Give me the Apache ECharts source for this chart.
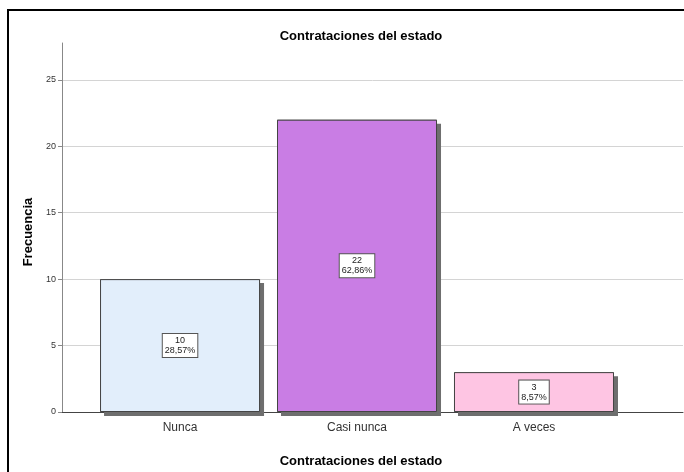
<!DOCTYPE html>
<html>
<head>
<meta charset="utf-8">
<script src="https://cdn.jsdelivr.net/npm/echarts@6/dist/echarts.min.js"></script>
<style>
  html, body { margin: 0; padding: 0; background: #fff; }
  #chart { width: 684px; height: 472px; }
</style>
</head>
<body>
<div id="chart"></div>
<script>
// datos
const categories = ['Nunca', 'Casi nunca', 'A veces'];
const frecuencias = [10, 22, 3];
const porcentajes = ['28,57%', '62,86%', '8,57%'];
const yTicks = [0, 5, 10, 15, 20, 25];
const barColors = ['#e2eefb', '#c97de4', '#fec5e3'];

const font = 'Liberation Sans, Arial, sans-serif';

let seriesData = [];
let shadowData = [];
for (let i = 0; i < categories.length; ++i) {
    seriesData.push({
        value: [i, frecuencias[i]],
        itemStyle: { color: barColors[i] }
    });
    shadowData.push([i, frecuencias[i]]);
}

const chart = echarts.init(document.getElementById('chart'));
let options = {
    animation: false,
    textStyle: { fontFamily: font },
    title: [{
        text: 'Contrataciones del estado',
        left: 356,
        textAlign: 'center',
        top: 25,
        textStyle: { fontSize: 13, fontWeight: 'bold', color: '#000', fontFamily: font }
    }, {
        text: 'Contrataciones del estado',
        left: 356,
        textAlign: 'center',
        top: 450,
        textStyle: { fontSize: 13, fontWeight: 'bold', color: '#000', fontFamily: font }
    }],
    graphic: [{
        type: 'rect',
        shape: { x: 8, y: 10, width: 720, height: 500 },
        style: { fill: 'none', stroke: '#000', lineWidth: 2 },
        silent: true
    }],
    grid: { left: 62, right: 1, top: 43, bottom: 60 },
    xAxis: {
        type: 'value',
        min: -0.667,
        max: 2.842,
        axisLine: { show: true, onZero: false, lineStyle: { color: '#444', width: 1 } },
        axisTick: { show: false },
        splitLine: { show: false },
        axisLabel: {
            customValues: [0, 1, 2],
            formatter: function (v) { return categories[Math.round(v)]; },
            fontSize: 12,
            color: '#333',
            margin: 10
        }
    },
    yAxis: {
        type: 'value',
        min: 0,
        max: 27.77,
        name: 'Frecuencia',
        nameLocation: 'middle',
        nameGap: 26,
        nameTextStyle: { fontSize: 13, fontWeight: 'bold', color: '#000', padding: [0, 9, 0, 0] },
        axisLine: { show: true, onZero: false, lineStyle: { color: '#888', width: 1 } },
        axisTick: { show: true, length: 4, customValues: yTicks, lineStyle: { color: '#888' } },
        axisLabel: { customValues: yTicks, fontSize: 9, color: '#333', margin: 6 },
        splitLine: { show: true, lineStyle: { color: '#d4d4d4', width: 1 } }
    },
    series: [{
        // sombra de las barras
        type: 'bar',
        barWidth: 160,
        barGap: '-100%',
        silent: true,
        data: shadowData,
        itemStyle: {
            color: '#6e6e6e',
            borderWidth: 0,
            shadowColor: '#6e6e6e',
            shadowBlur: 0,
            shadowOffsetX: 4,
            shadowOffsetY: 4
        }
    }, {
        type: 'bar',
        barWidth: 160,
        barGap: '-100%',
        data: seriesData,
        itemStyle: {
            borderColor: '#444',
            borderWidth: 1
        },
        label: {
            show: true,
            position: 'inside',
            formatter: function (p) {
                return frecuencias[p.dataIndex] + '\n' + porcentajes[p.dataIndex];
            },
            fontSize: 9,
            lineHeight: 10,
            color: '#222',
            align: 'center',
            backgroundColor: '#fff',
            borderColor: '#555',
            borderWidth: 1,
            padding: [2, 2, 1, 2]
        }
    }]
};
chart.setOption(options, true);
</script>
</body>
</html>
